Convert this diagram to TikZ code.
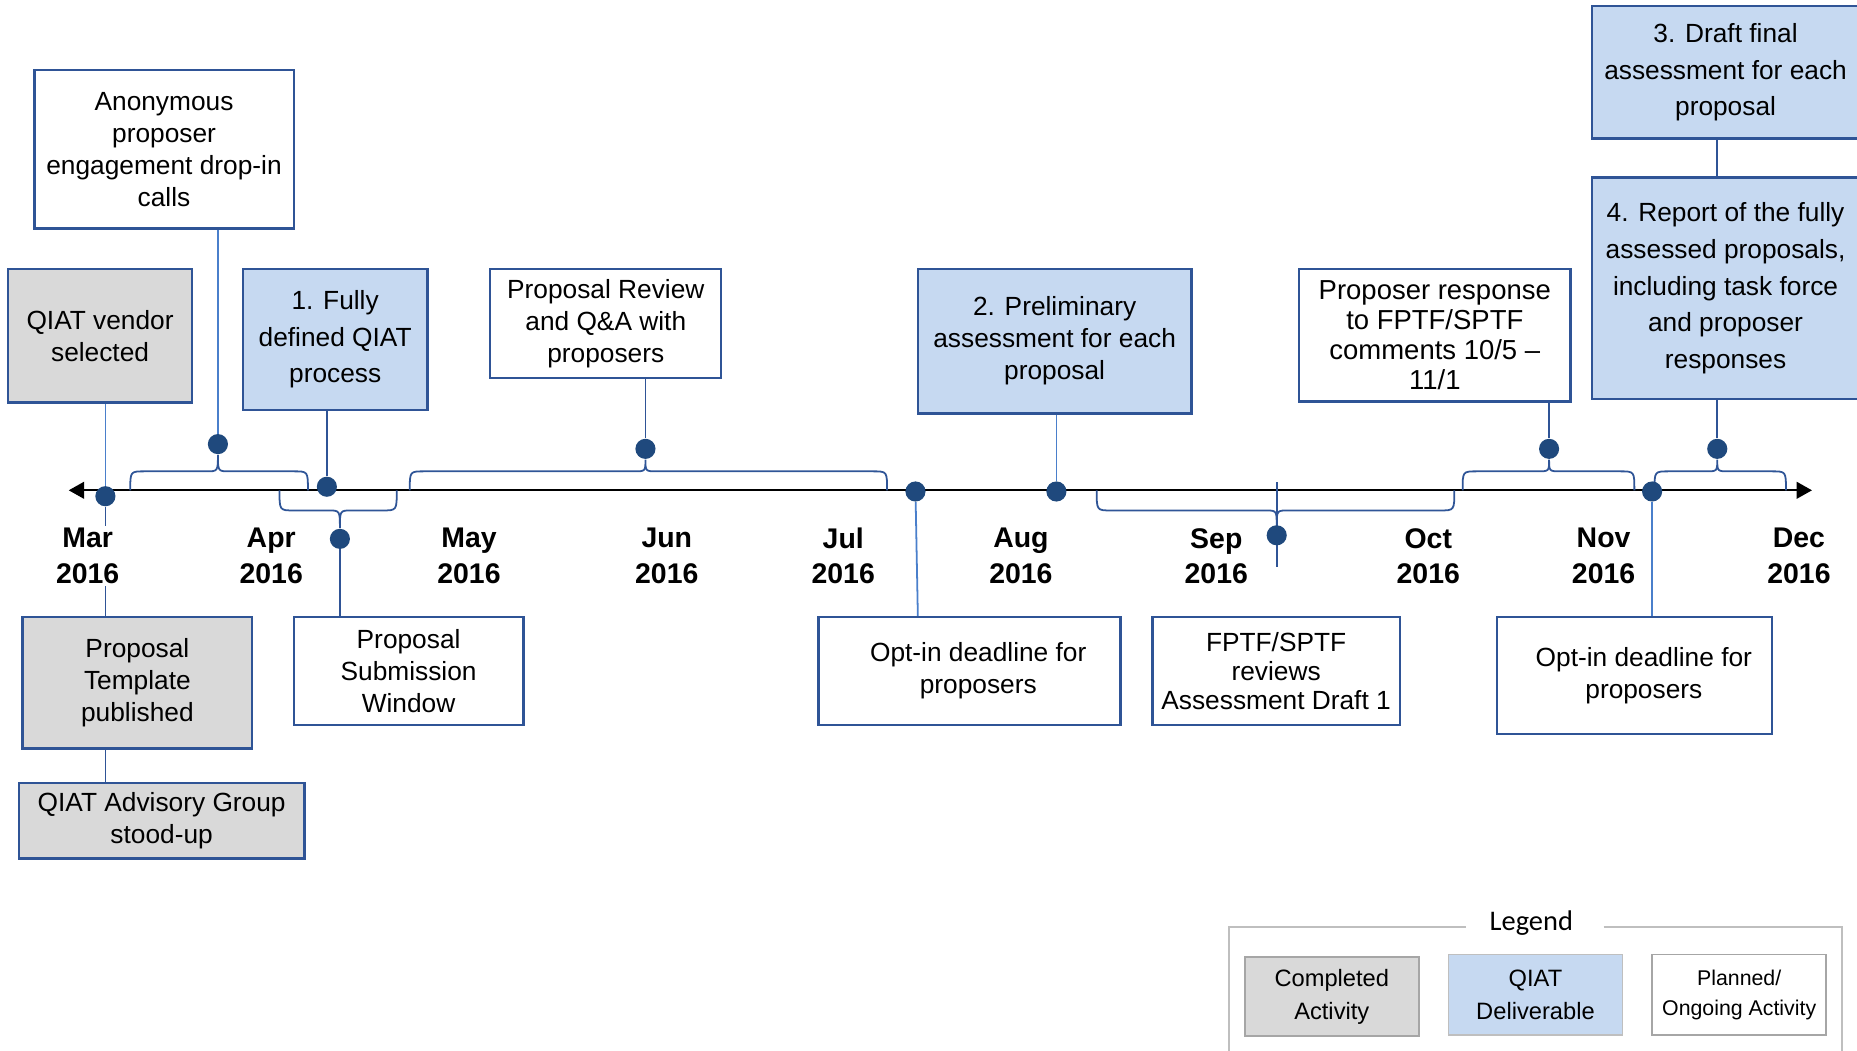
\documentclass[tikz,border=0pt]{standalone}
\usepackage{fontspec}
\setmainfont{Liberation Sans}
\newfontfamily\legendfont{Carlito}
\usetikzlibrary{arrows.meta}

\definecolor{boxline}{HTML}{2F5496}
\definecolor{bluefill}{HTML}{C6D9F1}
\definecolor{grayfill}{HTML}{D9D9D9}
\definecolor{dotcol}{HTML}{1F497D}
\definecolor{lightline}{HTML}{4A7FCB}
\definecolor{braceline}{HTML}{2F5597}
\definecolor{legendline}{HTML}{BFBFBF}
\definecolor{legendbox}{HTML}{A6A6A6}

\pgfdeclarelayer{bg}
\pgfsetlayers{bg,main}

% curly brace on the time axis: left end, tip, right end, axis y, flat y, tip y
\newcommand\tlbrace[6]{%
  \draw[brace] (#1,#4) .. controls (#1,#5) .. (#1+12,#5) -- (#2-10,#5)
    .. controls (#2,#5) .. (#2,#6) .. controls (#2,#5) .. (#2+10,#5)
    -- (#3-12,#5) .. controls (#3,#5) .. (#3,#4);}

\begin{document}
\begin{tikzpicture}[x=0.5pt,y=-0.5pt,
  corners/.style n args={4}{at={({(#1+#3)/2},{(#2+#4)/2})},
    minimum width={(#3-#1)*0.5pt}, minimum height={(#4-#2)*0.5pt}},
  box/.style={draw=boxline, line width=1pt, inner sep=0pt, align=center,
    font=\fontsize{11.1}{13.5}\selectfont},
  done/.style={box, fill=grayfill},
  deliv/.style={box, fill=bluefill},
  plan/.style={box, fill=white},
  conn/.style={draw=boxline, line width=0.75pt},
  lconn/.style={draw=lightline, line width=0.75pt},
  brace/.style={draw=braceline, line width=0.75pt},
  axisline/.style={draw=black, line width=1pt,
    {Triangle[length=6.5pt,width=7pt]}-{Triangle[length=6.5pt,width=7pt]}},
  dot/.style={circle, fill=dotcol, inner sep=0pt, minimum size=8.5pt},
  month/.style={font=\bfseries\fontsize{12}{15}\selectfont, align=center,
    fill=white, inner sep=1pt},
  legbox/.style={draw=legendbox, line width=0.75pt, inner sep=0pt, align=center,
    font=\fontsize{10}{14}\selectfont},
]
\useasboundingbox (0,0) rectangle (1568,887);

% ---- activity boxes above the axis
\node[plan, corners={29}{59}{248}{193}] (anon) {Anonymous\\proposer\\engagement drop-in\\calls};
\node[done, corners={7}{227}{162}{340}] (vendor) {QIAT vendor\\selected};
\node[deliv, corners={205}{227}{361}{346}, font=\fontsize{11.1}{15.25}\selectfont] (qiat1) {1. Fully\\defined QIAT\\process};
\node[plan, corners={414}{227}{609}{319}] (review) {Proposal Review\\and Q\&A with\\proposers};
\node[deliv, corners={775}{227}{1006}{349}] (qiat2) {2. Preliminary\\assessment for each\\proposal};
\node[plan, corners={1097}{227}{1326}{339}, font=\fontsize{11.6}{12.75}\selectfont] (response) {Proposer response\\to FPTF/SPTF\\comments 10/5 –\\11/1};
\node[deliv, corners={1344}{5}{1570}{117}, font=\fontsize{11.1}{15.5}\selectfont] (qiat3) {3. Draft final\\assessment for each\\proposal};
\node[deliv, corners={1344}{150}{1570}{337}, font=\fontsize{11.1}{15.5}\selectfont] (qiat4) {4. Report of the fully\\assessed proposals,\\including task force\\and proposer\\responses};

% ---- activity boxes below the axis
\node[done, corners={19}{521}{213}{632}] (template) {Proposal\\Template\\published};
\node[done, corners={16}{661}{257}{725}] (advisory) {QIAT Advisory Group\\stood-up};
\node[plan, corners={248}{521}{442}{612}] (submit) {Proposal\\Submission\\Window};
\node[plan, corners={691}{521}{946}{612}] (optin1) {\hspace*{7.5pt}Opt-in deadline for\\\hspace*{7.5pt}proposers};
\node[plan, corners={973}{521}{1182}{612}, font=\fontsize{11.1}{12.25}\selectfont] (fptf) {FPTF/SPTF\\reviews\\Assessment Draft 1};
\node[plan, corners={1264}{521}{1496}{620}] (optin2) {\hspace*{8pt}Opt-in deadline for\\\hspace*{8pt}proposers};

% ---- milestone dots
\node[dot] (dMar) at (89,419) {};
\node[dot] (dApr) at (276,411) {};
\node[dot] (dAnon) at (184,375) {};
\node[dot] (dSub) at (287,455) {};
\node[dot] (dRev) at (545,379) {};
\node[dot] (dJul) at (773,415) {};
\node[dot] (dAug) at (892,415) {};
\node[dot] (dSep) at (1078,452) {};
\node[dot] (dResp) at (1308,379) {};
\node[dot] (dNov) at (1395,415) {};
\node[dot] (dRep) at (1450,379) {};

\coordinate (axL) at (58,414);
\coordinate (axR) at (1530,414);
\coordinate (sepTop) at (1078,407);
\coordinate (sepBot) at (1078,479);

\begin{pgfonlayer}{bg}
  \draw[axisline] (axL) -- (axR);
  \tlbrace{110}{184}{260}{414}{398}{384}
  \tlbrace{236}{287}{335}{414}{431}{446}
  \tlbrace{346}{545}{749}{414}{398}{388}
  \tlbrace{926}{1078}{1228}{414}{431}{444}
  \tlbrace{1235}{1308}{1380}{414}{398}{388}
  \tlbrace{1397}{1450}{1508}{414}{398}{388}
  \draw[conn] (sepTop) -- (sepBot);
\end{pgfonlayer}

% ---- connectors
\draw[lconn] (dMar |- vendor.south) -- (dMar);
\draw[conn] (dMar) -- (dMar |- template.north);
\draw[conn] (dMar |- template.south) -- (dMar |- advisory.north);
\draw[lconn] (dAnon |- anon.south) -- (dAnon);
\draw[conn] (dApr |- qiat1.south) -- (dApr);
\draw[conn] (dSub) -- (dSub |- submit.north);
\draw[conn] (dRev |- review.south) -- (dRev);
\draw[lconn] (dJul) -- ([xshift=1pt]dJul |- optin1.north);
\draw[lconn] (dAug |- qiat2.south) -- (dAug);
\draw[conn] (dResp |- response.south) -- (dResp);
\draw[conn] (dRep |- qiat3.south) -- (dRep |- qiat4.north);
\draw[conn] (dRep |- qiat4.south) -- (dRep);
\draw[lconn] (dNov) -- (dNov |- optin2.north);

% ---- month labels
\node[month] (mMar) at (74,469.5) {Mar\\2016};
\node[month] (mApr) at (229,469.5) {Apr\\2016};
\node[month] (mMay) at (396,469.5) {May\\2016};
\node[month] (mJun) at (563,469.5) {Jun\\2016};
\node[month] (mJul) at (712,469.5) {Jul\\2016};
\node[month] (mAug) at (862,469.5) {Aug\\2016};
\node[month] (mSep) at (1027,469.5) {Sep\\2016};
\node[month] (mOct) at (1206,469.5) {Oct\\2016};
\node[month] (mNov) at (1354,469.5) {Nov\\2016};
\node[month] (mDec) at (1519,469.5) {Dec\\2016};

% ---- legend
\node[font=\legendfont\fontsize{12}{14}\selectfont, inner sep=0pt] (legtitle) at (1293,779) {Legend};
\draw[legendline, line width=0.75pt] (1238,782.5) -- (1038,782.5) -- (1038,900);
\draw[legendline, line width=0.75pt] (1354,782.5) -- (1555,782.5) -- (1555,900);
\node[legbox, fill=grayfill, corners={1051}{808}{1198}{875}] (lgDone) {Completed\\Activity};
\node[legbox, fill=bluefill, draw=legendline, corners={1223}{806}{1370}{874}] (lgDeliv) {QIAT\\Deliverable};
\node[legbox, fill=white, corners={1395}{806}{1542}{874}, font=\fontsize{9}{12.5}\selectfont] (lgPlan) {Planned/\\Ongoing Activity};
\end{tikzpicture}
\end{document}
